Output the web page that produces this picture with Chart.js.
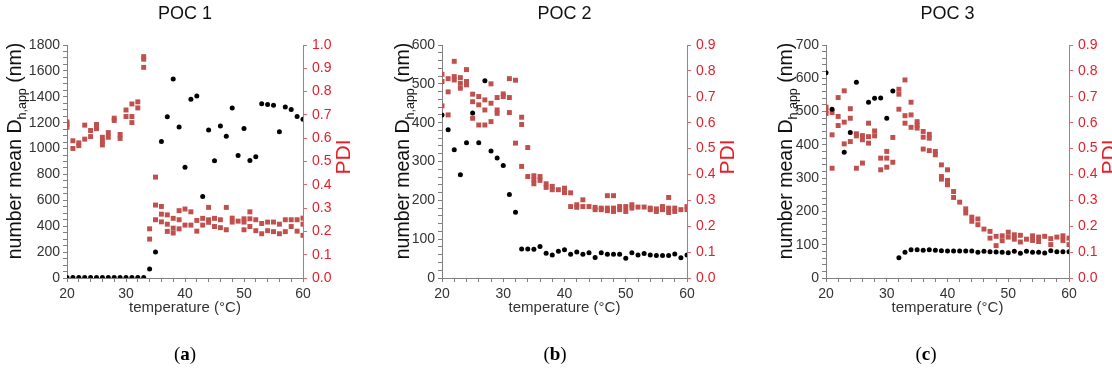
<!DOCTYPE html>
<html>
<head>
<meta charset="utf-8">
<script src="https://cdn.jsdelivr.net/npm/chart.js@4"></script>
<style>
  html, body { margin: 0; padding: 0; background: #fff; }
  #wrap { position: relative; width: 1112px; height: 372px; }
  .panel { position: absolute; top: 0; height: 372px; }
</style>
</head>
<body>
<div id="wrap">
  <div class="panel" style="left:0;width:370px"><canvas id="c1"></canvas></div>
  <div class="panel" style="left:370px;width:370px"><canvas id="c2"></canvas></div>
  <div class="panel" style="left:740px;width:372px"><canvas id="c3"></canvas></div>
</div>
<script>
// temperature (°C), one measurement per degree
const temps = [20,21,22,23,24,25,26,27,28,29,30,31,32,33,34,35,36,37,38,39,40,
               41,42,43,44,45,46,47,48,49,50,51,52,53,54,55,56,57,58,59,60];

// number mean Dh,app (nm)
const dh1 = [3,3,3,3,3,3,3,3,3,3,3,3,3,3,69,200,1054,1245,1538,1167,856,
             1381,1406,630,1144,905,1175,1095,1314,946,1154,908,936,1347,1340,1334,1129,1321,1301,1247,1227];
const dh2 = [420,382,330,266,348,425,348,508,327,309,290,215,169,75,75,74,81,64,59,69,73,
             61,67,61,65,53,65,61,61,61,51,65,59,63,59,58,58,58,62,52,59];
const dh3 = [617,507,null,378,437,588,null,528,540,541,480,562,61,77,85,85,83,85,83,82,81,
             81,81,81,81,77,80,79,78,77,76,80,74,80,77,77,75,82,79,79,79];

// PDI replicates per temperature
const pdi1 = [
  [0.67,0.66,0.647],[0.589,0.556],[0.58,0.568],[0.656,0.596],[0.633,0.607],[0.659,0.641],
  [0.604,0.587,0.571],[0.624,0.604],[0.686,0.676],[0.616,0.599],[0.721,0.693],[0.747,0.693,0.667],
  [0.756,0.73],[0.95,0.939,0.904],[0.211,0.167],[0.433,0.313,0.25],[0.307,0.274,0.241],
  [0.271,0.231,0.2],[0.256,0.214,0.193],[0.289,0.25,0.211],[0.296,0.227],[0.284,0.227],
  [0.247,0.201],[0.256,0.227],[0.303,0.25,0.239],[0.256,0.221],[0.25,0.216],[0.303,0.207],
  [0.257,0.24],[0.244],[0.254,0.24,0.207],[0.284,0.254,0.221],[0.25,0.203],[0.234,0.19],
  [0.24,0.203],[0.24,0.199],[0.231,0.19],[0.25,0.199],[0.25,0.221],[0.25,0.201],[0.257,0.231,0.183]
];
const pdi2 = [
  [0.787,0.759,0.665],[0.77,0.719,0.63],[0.837,0.778,0.765],[0.774,0.752,0.733],[0.805,0.759,0.746],
  [0.71,0.681,0.617],[0.701,0.669,0.591],[0.688,0.649,0.591],[0.75,0.675,0.604],[0.697,0.649,0.636],
  [0.711,0.701],[0.77,0.697,0.639],[0.764,0.521],[0.621,0.593,0.431],[0.504,0.392],
  [0.395,0.379,0.364],[0.392,0.377],[0.364,0.35],[0.354,0.341],[0.341],[0.347,0.33],
  [0.329,0.276],[0.283,0.273],[0.302,0.276],[0.276],[0.273,0.264],[0.27,0.264],[0.318,0.27,0.26],
  [0.318,0.27,0.257],[0.276,0.264],[0.276,0.257],[0.283,0.27],[0.274],[0.274],[0.27,0.264],
  [0.267,0.257],[0.276,0.264],[0.311,0.27,0.253],[0.27,0.257],[0.264],[0.276,0.264]
];
const pdi3 = [
  [0.66,0.645,0.635],[0.639,0.553,0.424],[0.697,0.624,0.589],[0.723,0.602,0.518],[0.654,0.617,0.527],
  [0.557,0.549,0.424],[0.55,0.534,0.444],[0.598,0.546,0.521],[0.568,0.549],[0.463,0.418],
  [0.489,0.463,0.428],[0.543,0.447],[0.729,0.71,0.652],[0.765,0.627,0.598],[0.679,0.63,0.582],
  [0.604,0.591,0.579],[0.566,0.544,0.498],[0.555,0.54,0.492],[0.489,0.476],[0.437,0.392,0.382],
  [0.418,0.377,0.36],[0.334,0.311],[0.293],[0.267,0.251],[0.235,0.219],[0.228,0.206],[0.189],
  [0.18,0.154],[0.161,0.125],[0.163,0.144],[0.177,0.158],[0.167,0.15],[0.165,0.139],[0.15],
  [0.163,0.145],[0.158,0.141],[0.161],[0.152,0.129],[0.158],[0.163,0.145],[0.154,0.129]
];

const FONT = '"Liberation Sans", Arial, sans-serif';
const RED = '#e3202a';
const SQUARE = '#c0504d';

// draws panel title, axis titles (with subscript) and panel letter
const titlesPlugin = {
  id: 'titles',
  afterDraw(chart, args, opts) {
    const { ctx, chartArea: a } = chart;
    const cx = (a.left + a.right) / 2;
    ctx.save();
    ctx.textBaseline = 'middle';
    ctx.textAlign = 'center';

    ctx.fillStyle = '#111';
    ctx.font = '18px ' + FONT;
    ctx.fillText(opts.title, cx, 14);

    ctx.fillStyle = '#333';
    ctx.font = '15px ' + FONT;
    ctx.fillText('temperature (°C)', cx, 308);

    // (a) with bold letter
    ctx.fillStyle = '#000';
    ctx.font = '19px "Liberation Serif", serif';
    const wp = ctx.measureText('(').width;
    ctx.font = 'bold 19px "Liberation Serif", serif';
    const wl = ctx.measureText(opts.letter).width;
    let x = chart.width / 2 - (wp * 2 + wl) / 2;
    ctx.textAlign = 'left';
    ctx.font = '19px "Liberation Serif", serif';
    ctx.fillText('(', x, 355);
    ctx.font = 'bold 19px "Liberation Serif", serif';
    ctx.fillText(opts.letter, x + wp, 355);
    ctx.font = '19px "Liberation Serif", serif';
    ctx.fillText(')', x + wp + wl, 355);

    // left title
    ctx.save();
    ctx.translate(opts.leftTitleX, 151);
    ctx.rotate(-Math.PI / 2);
    ctx.fillStyle = '#111';
    const big = '19.5px ' + FONT, small = '12.5px ' + FONT;
    ctx.font = big;
    const w1 = ctx.measureText('number mean D').width;
    const w3 = ctx.measureText(' (nm)').width;
    ctx.font = small;
    const w2 = ctx.measureText('h,app').width;
    let sx = -(w1 + w2 + w3) / 2;
    ctx.font = big;
    ctx.fillText('number mean D', sx, 0);
    ctx.font = small;
    ctx.fillText('h,app', sx + w1, 7);
    ctx.font = big;
    ctx.fillText(' (nm)', sx + w1 + w2, 0);
    ctx.restore();

    // right title
    ctx.save();
    ctx.translate(a.right + 41, 157);
    ctx.rotate(-Math.PI / 2);
    ctx.textAlign = 'center';
    ctx.fillStyle = RED;
    ctx.font = '21px ' + FONT;
    ctx.fillText('PDI', 0, 0);
    ctx.restore();

    ctx.restore();
  }
};

function isMajor(v, step) {
  return Math.abs(v / step - Math.round(v / step)) < 1e-6;
}

function makeChart(id, p) {
  const black = temps.map((t, i) => ({ x: t, y: p.dh[i] })).filter(d => d.y !== null);
  const red = [];
  temps.forEach((t, i) => p.pdi[i].forEach(v => red.push({ x: t, y: v })));

  return new Chart(document.getElementById(id), {
    type: 'scatter',
    data: {
      datasets: [
        {
          data: black, yAxisID: 'y',
          pointStyle: 'circle', pointRadius: 2.5, pointHoverRadius: 2.5,
          backgroundColor: '#000', borderWidth: 0
        },
        {
          data: red, yAxisID: 'y2',
          pointStyle: 'rect', pointRadius: 3.5, pointHoverRadius: 3.5,
          backgroundColor: SQUARE, borderWidth: 0
        }
      ]
    },
    plugins: [titlesPlugin],
    options: {
      responsive: true,
      maintainAspectRatio: false,
      animation: false,
      events: [],
      layout: { padding: { top: 45, left: 0, right: 0, bottom: 0 } },
      plugins: {
        legend: { display: false },
        tooltip: { enabled: false },
        titles: { title: p.title, letter: p.letter, leftTitleX: p.leftTitleX }
      },
      scales: {
        x: {
          type: 'linear', min: 20, max: 60,
          afterFit: s => { s.height = 372 - 278; },
          border: { color: '#808080', width: 1 },
          grid: { display: true, drawOnChartArea: false, drawTicks: true, tickLength: 4, tickColor: '#808080' },
          ticks: {
            stepSize: 2, autoSkip: false, maxRotation: 0, padding: 4,
            color: '#333', font: { family: FONT, size: 14 },
            callback: v => isMajor(v, 10) ? String(v) : ''
          }
        },
        y: {
          position: 'left', min: 0, max: p.yMax,
          afterFit: s => { s.width = p.left; },
          border: { color: '#808080', width: 1 },
          grid: { display: true, drawOnChartArea: false, drawTicks: true, tickLength: 4, tickColor: '#808080' },
          ticks: {
            stepSize: p.yMinor, autoSkip: false, padding: 3,
            color: '#333', font: { family: FONT, size: 14 },
            callback: v => isMajor(v, p.yStep) ? String(Math.round(v)) : ''
          }
        },
        y2: {
          position: 'right', min: 0, max: p.pdiMax,
          afterFit: s => { s.width = p.rightW; },
          border: { color: '#e06666', width: 1 },
          grid: { display: true, drawOnChartArea: false, drawTicks: true, tickLength: 4, tickColor: '#e06666' },
          ticks: {
            stepSize: 0.1, autoSkip: false, padding: 5,
            color: RED, font: { family: FONT, size: 14 },
            callback: v => v.toFixed(1)
          }
        }
      }
    }
  });
}

makeChart('c1', { dh: dh1, pdi: pdi1, title: 'POC 1', letter: 'a', yMax: 1800, yStep: 200, yMinor: 50,
                  pdiMax: 1.0, left: 67, rightW: 67, leftTitleX: 16 });
makeChart('c2', { dh: dh2, pdi: pdi2, title: 'POC 2', letter: 'b', yMax: 600, yStep: 100, yMinor: 20,
                  pdiMax: 0.9, left: 72, rightW: 53, leftTitleX: 34 });
makeChart('c3', { dh: dh3, pdi: pdi3, title: 'POC 3', letter: 'c', yMax: 700, yStep: 100, yMinor: 20,
                  pdiMax: 0.9, left: 86, rightW: 43, leftTitleX: 47 });
</script>
</body>
</html>
